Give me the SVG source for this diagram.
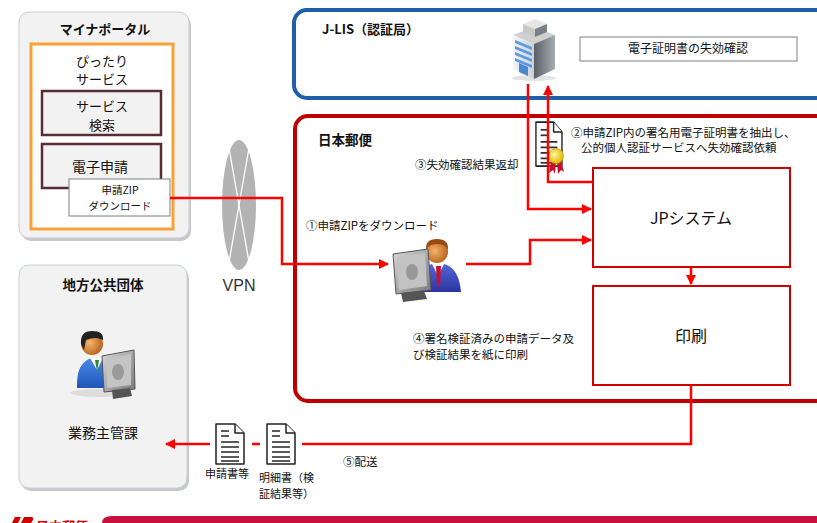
<svg xmlns="http://www.w3.org/2000/svg" width="817" height="523" viewBox="0 0 817 523">
  <style>
    .t { font-family: "Noto Sans CJK JP", "Noto Sans", sans-serif; fill: #111; }
    .b { font-weight: bold; }
    .c { text-anchor: middle; }
    .panel { fill: #f2f2f2; stroke: #c8cfd8; stroke-width: 1; }
    .shadow { fill: #9a9a9a; opacity: 0.55; }
    .inner { fill: #f2f2f2; stroke: #5a2d36; stroke-width: 2.5; }
    .sys { fill: #fff; stroke: #d00000; stroke-width: 2; }
    .flow { fill: none; stroke: #ff0000; stroke-width: 2.5; }
    .doc { fill: #fff; stroke: #222; stroke-width: 1.5; stroke-linejoin: round; }
    .docline { stroke: #333; stroke-width: 1.6; }
  </style>
  <defs>
    <marker id="arr" viewBox="0 0 10 10" refX="9" refY="5" markerWidth="4" markerHeight="4" orient="auto" markerUnits="strokeWidth">
      <path d="M0,0 L10,5 L0,10 Z" fill="#ff0000"/>
    </marker>
    <linearGradient id="bldLeft" x1="0" y1="0" x2="1" y2="0">
      <stop offset="0" stop-color="#f4f6f8"/>
      <stop offset="1" stop-color="#c9d0d8"/>
    </linearGradient>
    <linearGradient id="bldRight" x1="0" y1="0" x2="1" y2="0">
      <stop offset="0" stop-color="#5a5f66"/>
      <stop offset="1" stop-color="#a8adb3"/>
    </linearGradient>
    <radialGradient id="face" cx="0.4" cy="0.45" r="0.6">
      <stop offset="0" stop-color="#f6b46a"/>
      <stop offset="1" stop-color="#b8641e"/>
    </radialGradient>
    <linearGradient id="suit" x1="0" y1="0" x2="0" y2="1">
      <stop offset="0" stop-color="#5566d8"/>
      <stop offset="1" stop-color="#2a34a0"/>
    </linearGradient>
    <linearGradient id="suit2" x1="0" y1="0" x2="0" y2="1">
      <stop offset="0" stop-color="#4a8ae8"/>
      <stop offset="1" stop-color="#1f56b8"/>
    </linearGradient>
    <linearGradient id="screen" x1="0" y1="0" x2="1" y2="1">
      <stop offset="0" stop-color="#d8d8d8"/>
      <stop offset="1" stop-color="#7a7a7a"/>
    </linearGradient>
    <radialGradient id="seal" cx="0.4" cy="0.4" r="0.6">
      <stop offset="0" stop-color="#fff6a0"/>
      <stop offset="1" stop-color="#e6b800"/>
    </radialGradient>
    <g id="doc">
      <path class="doc" d="M1,1 H20 L29,10 V41 H1 Z"/>
      <path class="doc" d="M20,1 V10 H29"/>
      <line class="docline" x1="6" y1="8" x2="14" y2="8"/>
      <line class="docline" x1="6" y1="13" x2="14" y2="13"/>
      <line class="docline" x1="6" y1="19" x2="24" y2="19"/>
      <line class="docline" x1="6" y1="24" x2="24" y2="24"/>
      <line class="docline" x1="6" y1="29" x2="24" y2="29"/>
      <line class="docline" x1="6" y1="34" x2="24" y2="34"/>
      <line class="docline" x1="6" y1="38" x2="24" y2="38"/>
    </g>
  </defs>

  <rect width="817" height="523" fill="#fff"/>

  <!-- マイナポータル -->
  <g id="mynaportal">
    <rect class="shadow" x="21" y="15" width="170" height="226" rx="10"/>
    <rect class="panel" x="19" y="12" width="170" height="226" rx="10"/>
    <text class="t b c" x="105" y="34" font-size="13">マイナポータル</text>
  </g>
  <g id="pittari">
    <rect x="31" y="44" width="142" height="185" fill="#fff" stroke="#f9a136" stroke-width="3"/>
    <text class="t c" x="102" y="66" font-size="13">ぴったり</text>
    <text class="t c" x="102" y="84" font-size="13">サービス</text>
  </g>
  <g id="service-search">
    <rect class="inner" x="42" y="91" width="119" height="44"/>
    <text class="t c" x="102" y="111" font-size="13">サービス</text>
    <text class="t c" x="102" y="130" font-size="13">検索</text>
  </g>
  <g id="e-application">
    <rect class="inner" x="42" y="144" width="119" height="44"/>
    <text class="t c" x="100" y="172" font-size="14">電子申請</text>
  </g>
  <g id="zip-download">
    <rect x="69" y="179" width="101" height="37" fill="#fff" stroke="#7f7f7f" stroke-width="1"/>
    <text class="t c" x="120" y="194" font-size="10.5">申請ZIP</text>
    <text class="t c" x="120" y="210" font-size="10.5">ダウンロード</text>
  </g>

  <!-- VPN -->
  <g id="vpn">
    <ellipse cx="239" cy="205" rx="17" ry="65" fill="#b3b3b3"/>
    <line x1="229" y1="148" x2="249" y2="262" stroke="#fff" stroke-width="1.3"/>
    <line x1="249" y1="148" x2="229" y2="262" stroke="#fff" stroke-width="1.3"/>
    <text x="239" y="291" font-family="Liberation Sans, Arial, sans-serif" font-size="16" fill="#333" text-anchor="middle">VPN</text>
  </g>

  <!-- 地方公共団体 -->
  <g id="local-gov">
    <rect class="shadow" x="21" y="268" width="168" height="223" rx="10"/>
    <rect class="panel" x="19" y="265" width="168" height="223" rx="10"/>
    <text class="t b c" x="103" y="290" font-size="13.5">地方公共団体</text>
    <g id="officer">
      <ellipse cx="100" cy="393" rx="30" ry="4" fill="#ddd"/>
      <path d="M77,388 Q76,362 92,358 L104,358 Q114,362 114,388 Z" fill="url(#suit2)"/>
      <path d="M90,358 L97,370 L103,358 Z" fill="#fff"/>
      <path d="M95,360 L97,372 L99,360 Z" fill="#2a8a2a"/>
      <circle cx="92" cy="344" r="11" fill="url(#face)"/>
      <path d="M81,344 Q80,331 92,331 Q104,331 103,340 Q96,336 86,340 L84,350 Z" fill="#222"/>
      <path d="M102,356 L134,350 L135,389 L104,392 Z" fill="url(#screen)" stroke="#555" stroke-width="1"/>
      <path d="M106,359 L131,354 L131,385 L107,388 Z" fill="#c4c4c4"/>
      <ellipse cx="118" cy="372" rx="6" ry="8" fill="#9a9a9a"/>
      <path d="M112,390 L130,388 L132,396 L113,399 Z" fill="#555"/>
    </g>
    <text class="t c" x="103" y="438" font-size="14">業務主管課</text>
  </g>

  <!-- J-LIS -->
  <g id="jlis">
    <rect x="294" y="10" width="540" height="88" rx="13" fill="#fff" stroke="#1f5ea8" stroke-width="4"/>
    <text class="t b" x="322" y="34" font-size="13">J-LIS（認証局）</text>
    <g id="jlis-building">
      <ellipse cx="534" cy="78" rx="22" ry="3" fill="#e3e3e3"/>
      <polygon points="513,35 534,27 555,35 534,44" fill="#d0d0d0"/>
      <polygon points="513,35 534,44 534,79 513,69" fill="url(#bldLeft)"/>
      <polygon points="534,44 555,35 555,69 534,79" fill="url(#bldRight)"/>
      <polygon points="515,40 532,47 532,50 515,43" fill="#5d9be0"/>
      <polygon points="515,46 532,53 532,56 515,49" fill="#5d9be0"/>
      <polygon points="515,52 532,59 532,62 515,55" fill="#5d9be0"/>
      <polygon points="515,58 532,65 532,68 515,61" fill="#5d9be0"/>
      <polygon points="519,63 528,67 528,76 519,72" fill="#4a88d0"/>
      <polygon points="523,24 535,19 547,24 535,29" fill="#e6e6e6"/>
      <polygon points="523,24 535,29 535,37 523,32" fill="#c8c8c8"/>
      <polygon points="535,29 547,24 547,32 535,37" fill="#7b8087"/>
    </g>
  </g>
  <g id="revocation-check">
    <rect x="580" y="37" width="217" height="24" fill="#fff" stroke="#7f7f7f" stroke-width="1"/>
    <text class="t c" x="688" y="53" font-size="12">電子証明書の失効確認</text>
  </g>

  <!-- 日本郵便 -->
  <g id="japanpost">
    <rect x="295" y="116" width="540" height="285" rx="13" fill="#fff" stroke="#c00000" stroke-width="4"/>
    <text class="t b" x="318" y="145" font-size="13.5">日本郵便</text>
  </g>
  <g id="jp-system">
    <rect class="sys" x="593" y="168" width="197" height="99"/>
    <text class="t c" x="691" y="224" font-size="16">JPシステム</text>
  </g>
  <g id="printing">
    <rect class="sys" x="593" y="286" width="197" height="99"/>
    <text class="t c" x="691" y="342" font-size="16">印刷</text>
  </g>
  <g id="operator">
    <path d="M417,292 Q416,268 432,264 L444,264 Q459,268 461,292 Z" fill="url(#suit)"/>
    <path d="M432,264 L438,276 L444,264 Z" fill="#fff"/>
    <path d="M436,266 L437,286 L440,286 L441,266 Z" fill="#c8102e"/>
    <circle cx="437" cy="252" r="11" fill="url(#face)"/>
    <path d="M426,250 Q425,239 437,239 Q449,239 448,250 Q446,244 437,244 Q428,244 426,250 Z" fill="#9a4a10"/>
    <path d="M393,254 L428,249 L431,290 L396,294 Z" fill="url(#screen)" stroke="#555" stroke-width="1"/>
    <path d="M397,257 L425,253 L427,286 L399,290 Z" fill="#c2c2c2"/>
    <ellipse cx="412" cy="272" rx="6" ry="8" fill="#999"/>
    <path d="M401,293 L424,291 L427,299 L403,302 Z" fill="#555"/>
  </g>
  <g id="certificate">
    <g transform="translate(535,121) scale(0.93,1.1)"><use href="#doc"/></g>
    <path d="M551,161 L549,173 L553,170 L555,174 L556,162 Z" fill="#c8102e"/>
    <path d="M557,162 L558,174 L561,170 L564,172 L561,161 Z" fill="#c8102e"/>
    <circle cx="556" cy="156" r="7.5" fill="url(#seal)" stroke="#d0a000" stroke-width="0.8"/>
  </g>
  <g id="doc-application">
    <use href="#doc" x="215" y="423"/>
    <text class="t c" x="227" y="478" font-size="11">申請書等</text>
  </g>
  <g id="doc-statement">
    <use href="#doc" x="266" y="423"/>
    <text class="t" x="259" y="482" font-size="11">明細書（検</text>
    <text class="t" x="259" y="498" font-size="11">証結果等）</text>
  </g>

  <!-- connectors -->
  <g id="connectors">
    <path class="flow" d="M170,198 H282 V264 H388" marker-end="url(#arr)"/>
    <path class="flow" d="M466,264 H530 V240 H591" marker-end="url(#arr)"/>
    <path class="flow" d="M528,84 V209 H591" marker-end="url(#arr)"/>
    <path class="flow" d="M593,182 H548 V86" marker-end="url(#arr)"/>
    <path class="flow" d="M691,267 V284" marker-end="url(#arr)"/>
    <path class="flow" d="M691,385 V444 H302"/>
    <path class="flow" d="M260,444 H252"/>
    <path class="flow" d="M210,444 H166" marker-end="url(#arr)"/>
  </g>

  <!-- step labels -->
  <g id="labels">
    <text class="t" x="306" y="230" font-size="11.5">①申請ZIPをダウンロード</text>
    <text class="t" x="571" y="137" font-size="11.5">②申請ZIP内の署名用電子証明書を抽出し、</text>
    <text class="t" x="581" y="152" font-size="11.5">公的個人認証サービスへ失効確認依頼</text>
    <text class="t" x="415" y="169" font-size="11.5">③失効確認結果返却</text>
    <text class="t" x="413" y="343" font-size="11.5">④署名検証済みの申請データ及</text>
    <text class="t" x="413" y="359" font-size="11.5">び検証結果を紙に印刷</text>
    <text class="t" x="343" y="466" font-size="11.5">⑤配送</text>
  </g>

  <!-- footer -->
  <g id="footer">
    <path d="M112,516 H817 V523 H102 Q102,516 112,516 Z" fill="#c8103e"/>
    <path d="M12,523 L15,517 L21,517 L18,523 Z" fill="#d40000"/>
    <path d="M21,523 L24,517 L31,517 Q34,517 33,520 L31,523 Z" fill="#d40000"/>
    <text x="36" y="531" font-family="Noto Sans CJK JP, sans-serif" font-weight="bold" font-size="13" fill="#d40000">日本郵便</text>
  </g>
</svg>
